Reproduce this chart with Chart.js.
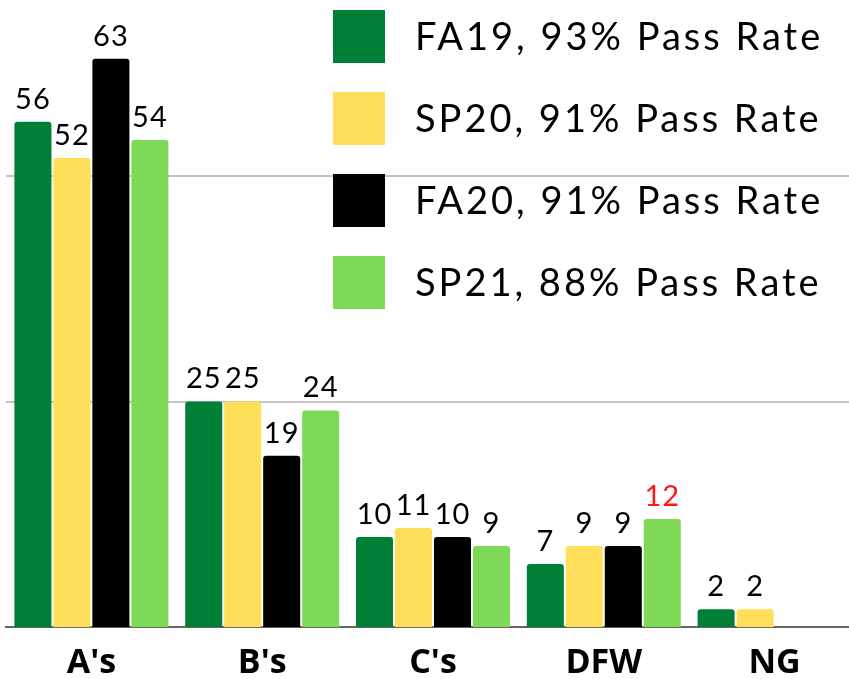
<!DOCTYPE html>
<html>
<head>
<meta charset="utf-8">
<script src="https://cdn.jsdelivr.net/npm/chart.js@4"></script>
<style>
  html, body { margin: 0; padding: 0; background: #fff; }
  #wrap { width: 849px; height: 679px; overflow: hidden; position: relative; }
  canvas { display: block; }
</style>
</head>
<body>
<div id="wrap"><canvas id="gradesChart" width="866" height="700"></canvas></div>
<script>
// grade categories and values per semester
const categories = ["A's", "B's", "C's", "DFW", "NG"];
const seriesLabels = ['FA19, 93% Pass Rate', 'SP20, 91% Pass Rate', 'FA20, 91% Pass Rate', 'SP21, 88% Pass Rate'];
const fa19 = [56, 25, 10, 7, 2];
const sp20 = [52, 25, 11, 9, 2];
const fa20 = [63, 19, 10, 9, null];
const sp21 = [54, 24, 9, 12, null];
const gridTicks = [25, 50];

const colors = ['#008037', '#FFDE59', '#000000', '#7ED957'];

// value labels above each bar (the DFW jump in SP21 is shown in red)
const valueLabels = {
    id: 'valueLabels',
    afterDatasetsDraw(chart) {
        const ctx = chart.ctx;
        ctx.save();
        ctx.font = '29px Lato';
        ctx.letterSpacing = '1px';
        ctx.textAlign = 'center';
        ctx.textBaseline = 'bottom';
        chart.data.datasets.forEach((ds, i) => {
            chart.getDatasetMeta(i).data.forEach((bar, j) => {
                const v = ds.data[j];
                if (v === null) return;
                ctx.fillStyle = (i === 3 && j === 3) ? '#FF1616' : '#000';
                ctx.fillText(v, bar.x, bar.y - 8);
            });
        });
        ctx.restore();
    }
};

// big square legend sitting in the top right of the plot
const boxLegend = {
    id: 'boxLegend',
    afterDraw(chart) {
        const ctx = chart.ctx;
        ctx.save();
        ctx.font = '38px Lato';
        ctx.letterSpacing = '3px';
        ctx.textBaseline = 'middle';
        chart.data.datasets.forEach((ds, i) => {
            const y = 10 + i * 82;
            ctx.fillStyle = ds.backgroundColor;
            ctx.fillRect(333, y, 52, 53);
            ctx.fillStyle = '#000';
            ctx.fillText(ds.label, 415, y + 28);
        });
        ctx.restore();
    }
};

const ctx = document.getElementById('gradesChart').getContext('2d');
new Chart(ctx, {
    type: 'bar',
    data: {
        labels: categories,
        datasets: [fa19, sp20, fa20, sp21].map((d, i) => ({
            label: seriesLabels[i],
            data: d,
            backgroundColor: colors[i],
            borderRadius: 3,
            categoryPercentage: 0.913,
            barPercentage: 0.95
        }))
    },
    options: {
        responsive: false,
        devicePixelRatio: 1,
        animation: false,
        layout: { padding: { left: 6, right: 6, top: 0, bottom: 8 } },
        plugins: { legend: { display: false }, tooltip: { enabled: false } },
        scales: {
            x: {
                grid: { display: false },
                border: { display: true, color: '#666', width: 2 },
                ticks: { color: '#000', padding: 8, font: { family: 'Open Sans', size: 34, weight: 'bold' } }
            },
            y: {
                min: 0,
                max: 69.5,
                afterBuildTicks: (scale) => { scale.ticks = gridTicks.map(v => ({ value: v })); },
                ticks: { display: false },
                border: { display: false },
                grid: { drawTicks: false, color: '#c4c4c4', lineWidth: 2 }
            }
        }
    },
    plugins: [valueLabels, boxLegend]
});
</script>
</body>
</html>
